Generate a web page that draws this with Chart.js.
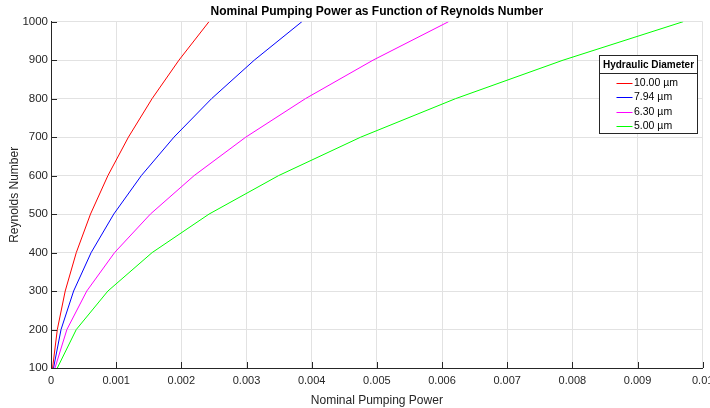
<!DOCTYPE html>
<html><head><meta charset="utf-8">
<script src="https://cdn.jsdelivr.net/npm/chart.js@4.4.1/dist/chart.umd.min.js"></script>
<style>html,body{margin:0;padding:0;background:#fff;overflow:hidden}#wrap{width:710px;height:408px}</style>
</head><body><div id="wrap"><canvas id="c" width="710" height="408"></canvas></div>
<script>
// Reynolds numbers (y values)
const reynolds = [100, 200, 300, 400, 500, 600, 700, 800, 900, 1000];
// Nominal pumping power (x values) per hydraulic diameter
const power1000 = [0.000024, 0.000097, 0.000218, 0.000388, 0.000606, 0.000873, 0.001188, 0.001551, 0.001963, 0.002424];
const power794  = [0.000039, 0.000154, 0.000347, 0.000616, 0.000963, 0.001386, 0.001887, 0.002464, 0.003119, 0.003850];
const power630  = [0.000061, 0.000244, 0.000549, 0.000976, 0.001525, 0.002196, 0.002989, 0.003904, 0.004941, 0.006100];
const power500  = [0.000097, 0.000388, 0.000873, 0.001552, 0.002425, 0.003492, 0.004753, 0.006208, 0.007857, 0.009700];
const seriesLabels = ['10.00 µm', '7.94 µm', '6.30 µm', '5.00 µm'];
const seriesColors = ['#ff0000', '#0000ff', '#ff00ff', '#00ff00'];
const xTickLabels = ['0', '0.001', '0.002', '0.003', '0.004', '0.005', '0.006', '0.007', '0.008', '0.009', '0.01'];
const yTickLabels = ['100', '200', '300', '400', '500', '600', '700', '800', '900', '1000'];
const legendTitle = 'Hydraulic Diameter';

const FONT = '"Liberation Sans", Arial, Helvetica, sans-serif';
Chart.defaults.font.family = FONT;
Chart.defaults.color = '#262626';

const allPower = [power1000, power794, power630, power500];
const datasets = allPower.map((p, i) => ({
  label: seriesLabels[i],
  data: p.map((v, j) => ({ x: v, y: reynolds[j] })),
  borderColor: seriesColors[i],
  backgroundColor: seriesColors[i],
  borderWidth: 1,
  pointRadius: 0,
  showLine: true,
  tension: 0,
  fill: false
}));

const innerTicks = {
  id: 'innerTicks',
  afterDraw(chart) {
    const { ctx, chartArea, scales: { x, y } } = chart;
    ctx.save();
    ctx.strokeStyle = '#262626';
    ctx.lineWidth = 1;
    ctx.beginPath();
    x.ticks.forEach(t => {
      const px = Math.round(x.getPixelForValue(t.value)) + 0.5;
      ctx.moveTo(px, chartArea.bottom);
      ctx.lineTo(px, chartArea.bottom - 6);
    });
    y.ticks.forEach(t => {
      const py = Math.round(y.getPixelForValue(t.value)) + 0.5;
      ctx.moveTo(chartArea.left, py);
      ctx.lineTo(chartArea.left + 6, py);
    });
    ctx.stroke();
    ctx.restore();
  }
};

const boxLegend = {
  id: 'boxLegend',
  afterDraw(chart) {
    const { ctx, chartArea } = chart;
    const x2 = Math.round(chartArea.right) - 5.5;
    const x1 = x2 - 98;
    const y1 = Math.round(chartArea.top) + 33.5;
    const rowH = 14.5;
    const y2 = y1 + 78;
    ctx.save();
    ctx.fillStyle = '#ffffff';
    ctx.fillRect(x1, y1, x2 - x1, y2 - y1);
    ctx.strokeStyle = '#262626';
    ctx.lineWidth = 1;
    ctx.strokeRect(x1, y1, x2 - x1, y2 - y1);
    ctx.beginPath();
    ctx.moveTo(x1, y1 + 18);
    ctx.lineTo(x2, y1 + 18);
    ctx.stroke();
    ctx.fillStyle = '#000000';
    ctx.font = 'bold 10px ' + FONT;
    ctx.textAlign = 'center';
    ctx.textBaseline = 'middle';
    ctx.fillText(legendTitle, (x1 + x2) / 2, y1 + 10);
    ctx.font = '10.5px ' + FONT;
    ctx.textAlign = 'left';
    chart.data.datasets.forEach((ds, i) => {
      const cy = y1 + 27 + i * rowH;
      ctx.strokeStyle = ds.borderColor;
      ctx.beginPath();
      ctx.moveTo(x1 + 17, Math.round(cy) + 0.5);
      ctx.lineTo(x1 + 33, Math.round(cy) + 0.5);
      ctx.stroke();
      ctx.fillStyle = '#000000';
      ctx.fillText(ds.label, x1 + 34.5, cy + 0.5);
    });
    ctx.restore();
  }
};

new Chart(document.getElementById('c'), {
  type: 'scatter',
  data: { datasets },
  plugins: [innerTicks, boxLegend],
  options: {
    responsive: false,
    animation: false,
    devicePixelRatio: 1,
    layout: { padding: { left: 0, right: 7.3, top: 0, bottom: 0 } },
    plugins: {
      legend: { display: false },
      tooltip: { enabled: false },
      title: {
        display: true,
        text: 'Nominal Pumping Power as Function of Reynolds Number',
        fullSize: false,
        color: '#000000',
        font: { size: 12, weight: 'bold' },
        padding: { top: 4, bottom: 3.3 }
      }
    },
    scales: {
      x: {
        type: 'linear',
        position: 'bottom',
        min: 0, max: 0.01,
        ticks: {
          stepSize: 0.001,
          autoSkip: false,
          maxRotation: 0,
          padding: 6,
          color: '#262626',
          font: { size: 11 },
          callback: (v, i) => xTickLabels[i]
        },
        grid: { color: '#e2e2e2', drawTicks: false },
        border: { color: '#262626', width: 1 },
        title: { display: true, text: 'Nominal Pumping Power', color: '#262626', font: { size: 12 }, padding: { top: 2, bottom: 0 } },
        afterFit: s => { s.paddingLeft = 0; s.paddingRight = 0; s.height = 40; }
      },
      y: {
        type: 'linear',
        min: 100, max: 1000,
        ticks: {
          stepSize: 100,
          autoSkip: false,
          padding: 3,
          color: '#262626',
          font: { size: 11.5 },
          callback: (v, i) => yTickLabels[i]
        },
        grid: { color: '#e2e2e2', drawTicks: false },
        border: { color: '#262626', width: 1 },
        title: { display: true, text: 'Reynolds Number', color: '#262626', font: { size: 12 }, padding: { top: 7, bottom: 0 } },
        afterFit: s => { s.paddingTop = 0; s.paddingBottom = 0; s.width = 51; }
      }
    }
  }
});
</script>
</body></html>
